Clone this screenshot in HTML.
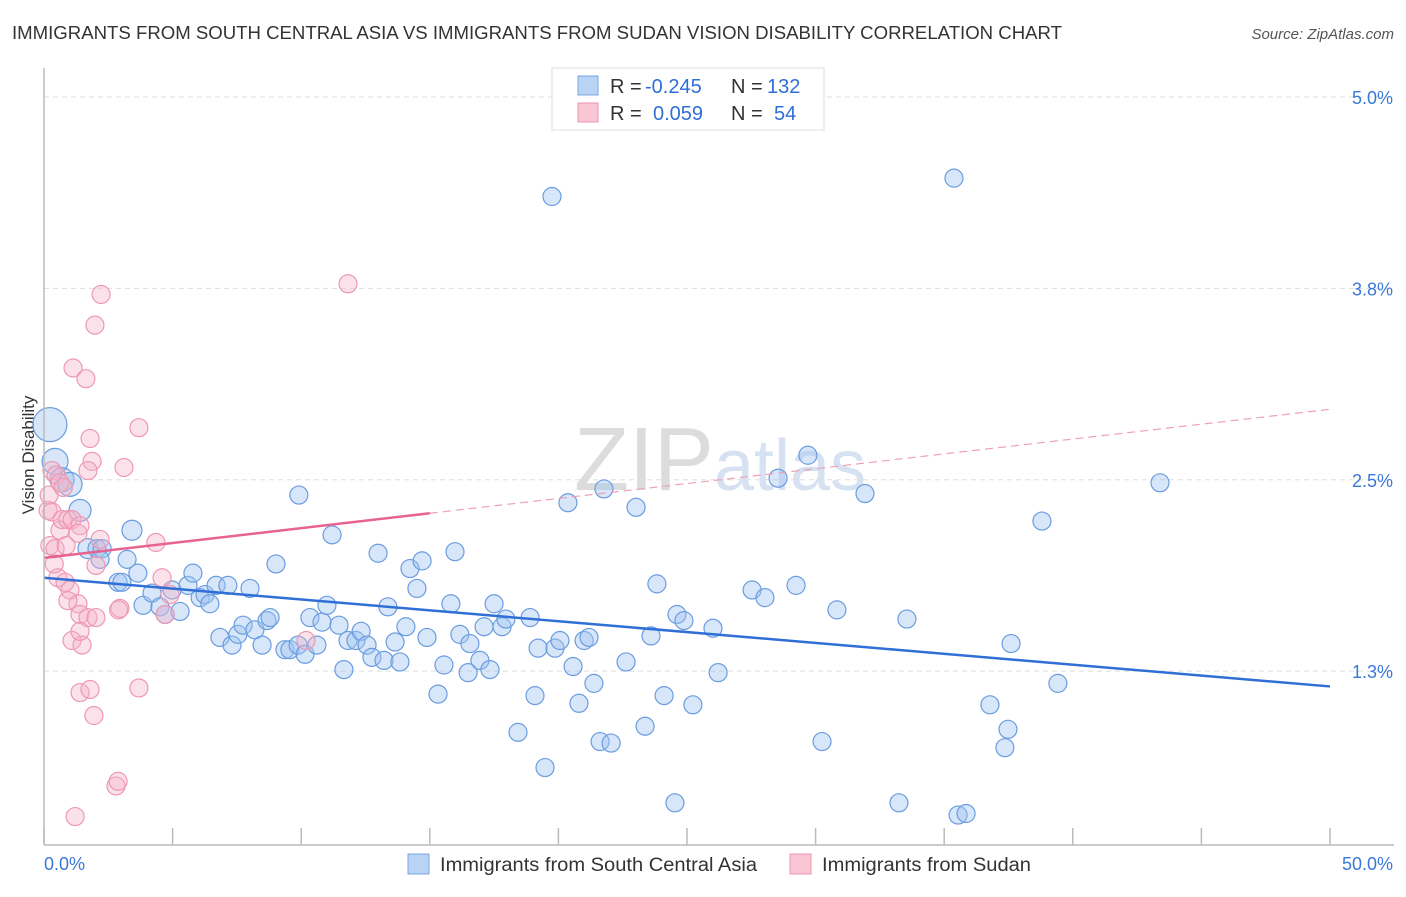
<!DOCTYPE html>
<html><head><meta charset="utf-8"><style>
body{margin:0;background:#fff;font-family:"Liberation Sans",sans-serif}
svg text{font-family:"Liberation Sans",sans-serif}
</style></head><body>
<svg id="chart" width="1406" height="892">
<text x="12" y="39" font-size="18" fill="#333" textLength="1050" lengthAdjust="spacingAndGlyphs">IMMIGRANTS FROM SOUTH CENTRAL ASIA VS IMMIGRANTS FROM SUDAN VISION DISABILITY CORRELATION CHART</text>
<text x="1394" y="39" font-size="15" fill="#555" font-style="italic" text-anchor="end">Source: ZipAtlas.com</text>
<text x="34" y="455" font-size="17" fill="#333" text-anchor="middle" transform="rotate(-90 34 455)">Vision Disability</text>
<text x="720" y="490" font-size="90" fill="#e6e6e6" text-anchor="middle" font-family="Liberation Serif"><tspan fill="#dcdcdc">ZIP</tspan><tspan fill="#d6e2f2" font-family="Liberation Sans" font-size="72">atlas</tspan></text>
<g id="grid"></g><g id="pts"></g><g id="lines"></g><g id="axes"></g>
<g>
<rect x="552" y="68" width="272" height="62" fill="#fff" stroke="#ddd"/>
<rect x="578" y="76" width="20" height="19" fill="#b9d3f5" stroke="#7aa6e0"/>
<rect x="578" y="103" width="20" height="19" fill="#f8c6d4" stroke="#eb94ad"/>
<text x="610" y="93" font-size="20" fill="#333">R =</text>
<text x="645" y="93" font-size="20" fill="#2f6fd6">-0.245</text>
<text x="731" y="93" font-size="20" fill="#333">N =</text>
<text x="767" y="93" font-size="20" fill="#2f6fd6">132</text>
<text x="610" y="120" font-size="20" fill="#333">R =</text>
<text x="653" y="120" font-size="20" fill="#2f6fd6">0.059</text>
<text x="731" y="120" font-size="20" fill="#333">N =</text>
<text x="774" y="120" font-size="20" fill="#2f6fd6">54</text>
</g>
<g>
<rect x="408" y="854" width="21" height="20" fill="#b9d3f5" stroke="#7aa6e0"/>
<text x="440" y="871" font-size="19" fill="#333" textLength="317" lengthAdjust="spacingAndGlyphs">Immigrants from South Central Asia</text>
<rect x="790" y="854" width="21" height="20" fill="#f8c6d4" stroke="#eb94ad"/>
<text x="822" y="871" font-size="19" fill="#333" textLength="209" lengthAdjust="spacingAndGlyphs">Immigrants from Sudan</text>
</g>
</svg>
<script>
const blueX=[0.23,0.43,0.70,1.01,1.40,1.71,2.06,2.26,2.18,3.42,3.23,3.65,2.88,3.03,3.85,4.20,4.51,4.71,4.98,5.29,5.60,5.79,6.07,6.26,6.45,6.69,7.15,8.01,9.02,9.91,11.20,6.84,7.31,7.54,7.74,8.20,8.48,8.67,8.79,9.37,9.56,9.88,10.15,10.34,10.61,10.81,11.00,11.47,11.66,11.82,12.13,12.33,12.56,12.75,12.99,13.22,13.37,13.65,13.84,14.07,14.23,14.50,14.70,14.89,15.32,15.55,15.82,15.98,16.17,16.49,16.56,16.95,17.11,17.34,17.50,17.81,17.96,18.43,18.90,19.09,19.21,19.48,19.75,19.87,20.06,20.37,20.57,20.80,21.00,21.19,21.38,21.62,21.77,22.05,22.63,23.02,23.37,23.60,23.83,24.11,24.53,24.61,24.88,25.23,26.01,26.21,27.53,28.03,28.54,29.24,29.70,30.25,30.83,31.92,33.24,33.55,35.38,35.54,35.85,36.78,37.36,37.48,37.60,38.80,39.42,43.39];
const blueY=[2.86,2.62,2.50,2.47,2.30,2.05,2.05,2.05,1.98,2.17,1.98,1.89,1.83,1.83,1.68,1.76,1.67,1.62,1.78,1.64,1.81,1.89,1.73,1.75,1.69,1.81,1.81,1.79,1.95,2.40,2.14,1.47,1.42,1.49,1.55,1.52,1.42,1.58,1.60,1.39,1.39,1.42,1.36,1.60,1.42,1.57,1.68,1.55,1.26,1.45,1.45,1.51,1.42,1.34,2.02,1.32,1.67,1.44,1.31,1.54,1.92,1.79,1.97,1.47,1.10,1.29,1.69,2.03,1.49,1.24,1.43,1.32,1.54,1.26,1.69,1.54,1.59,0.85,1.60,1.09,1.40,0.62,4.35,1.40,1.45,2.35,1.28,1.04,1.45,1.47,1.17,0.79,2.44,0.78,1.31,2.32,0.89,1.48,1.82,1.09,0.39,1.62,1.58,1.03,1.53,1.24,1.78,1.73,2.51,1.81,2.66,0.79,1.65,2.41,0.39,1.59,4.47,0.31,0.32,1.03,0.75,0.87,1.43,2.23,1.17,2.48];
const blueR=[17,13,12,12,11,10,9,9,9,10,9,9,9,9,9,9,9];
const pinkX=[0.31,0.47,0.62,0.16,0.31,0.23,0.43,0.62,0.70,0.93,1.09,1.40,1.32,0.86,0.54,0.82,1.01,1.32,1.40,1.71,2.02,1.09,1.48,1.40,1.40,1.79,1.94,2.02,2.18,2.95,3.69,1.13,1.63,1.98,2.22,11.82,3.69,1.79,1.87,3.11,4.35,4.59,4.71,4.90,10.19,2.80,1.21,0.93,1.71,2.88,0.20,0.75,2.90,0.40];
const pinkY=[2.56,2.53,2.48,2.30,2.29,2.07,2.05,2.17,2.24,2.24,2.24,2.20,2.15,2.07,1.86,1.83,1.78,1.69,1.62,1.60,1.60,1.45,1.42,1.51,1.11,1.13,0.96,1.94,2.11,1.66,1.14,3.23,3.16,3.51,3.71,3.78,2.84,2.77,2.62,2.58,2.09,1.86,1.62,1.75,1.45,0.50,0.30,1.71,2.56,0.53,2.40,2.45,1.65,1.95];
const yTicks=[5.0,3.75,2.5,1.25];
const yTickLabels=["5.0%","3.8%","2.5%","1.3%"];
const blueLine=[1.86,1.15];
const pinkLine=[1.99,2.96];
const pinkSolidEnd=15;
const X=p=>44+p*25.72, Y=v=>97+(5-v)*153.1;
const NS="http://www.w3.org/2000/svg";
function mk(tag,attrs,parent){const e=document.createElementNS(NS,tag);for(const k in attrs)e.setAttribute(k,attrs[k]);document.getElementById(parent).appendChild(e);return e;}
yTicks.forEach((t,i)=>{
 const l=mk('line',{x1:44,x2:1394,y1:Y(t),y2:Y(t),stroke:'#ddd','stroke-dasharray':'5,4'},'grid');
 
 
 const tx=mk('text',{x:1393,y:Y(t)+7,'font-size':18,fill:'#3a78d8','text-anchor':'end'},'grid');
 tx.textContent=yTickLabels[i];
 
 
});
blueX.forEach((x,i)=>{
 const c=mk('circle',{cx:X(x),cy:Y(blueY[i]),r:blueR[i]||9,fill:'rgba(160,196,240,0.42)',stroke:'#6a9de0','stroke-width':1.2},'pts');
 
 
});
pinkX.forEach((x,i)=>{
 const c=mk('circle',{cx:X(x),cy:Y(pinkY[i]),r:9,fill:'rgba(245,180,200,0.38)',stroke:'#ee98b2','stroke-width':1.2},'pts');
 
 
});
const bl=mk('line',{x1:X(0),y1:Y(blueLine[0]),x2:X(50),y2:Y(blueLine[1]),stroke:'#2f6fd6','stroke-width':2.5},'lines');


const pm=pinkLine[0]+(pinkLine[1]-pinkLine[0])*pinkSolidEnd/50;
const pl=mk('line',{x1:X(0),y1:Y(pinkLine[0]),x2:X(pinkSolidEnd),y2:Y(pm),stroke:'#e8638f','stroke-width':2.5},'lines');


const pd=mk('line',{x1:X(pinkSolidEnd),y1:Y(pm),x2:X(50),y2:Y(pinkLine[1]),stroke:'#eea0b8','stroke-width':1.2,'stroke-dasharray':'8,5'},'lines');


const ya=mk('line',{x1:44,x2:44,y1:68,y2:845,stroke:'#bbb','stroke-width':1.5},'axes');


const xa=mk('line',{x1:44,x2:1394,y1:845,y2:845,stroke:'#bbb','stroke-width':1.5},'axes');


for(let p=0;p<=50;p+=5){
 const t=mk('line',{x1:X(p),x2:X(p),y1:828,y2:845,stroke:'#bbb','stroke-width':1.5},'axes');
 
 
}
const x0=mk('text',{x:44,y:870,'font-size':18,fill:'#3a78d8'},'axes');x0.textContent='0.0%';


const x1=mk('text',{x:1393,y:870,'font-size':18,fill:'#3a78d8','text-anchor':'end'},'axes');x1.textContent='50.0%';


</script>
</body></html>
